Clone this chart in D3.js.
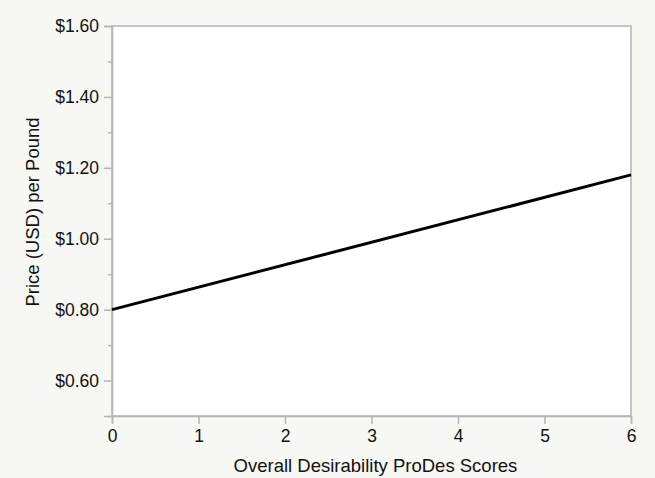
<!DOCTYPE html>
<html>
<head>
<meta charset="utf-8">
<script src="https://cdn.jsdelivr.net/npm/d3@7"></script>
<style>
  html, body { margin: 0; padding: 0; background: #f7f7f4; }
  svg { display: block; }
  text { font-family: "Liberation Sans", Arial, Helvetica, sans-serif; fill: #111; }
</style>
</head>
<body>
<svg id="chart" width="655" height="478"></svg>
<script>
// Fitted price line: desirability score vs. price per pound
const scores = [0, 6];
const prices = [0.80, 1.18];
const xTicks = [0, 1, 2, 3, 4, 5, 6];
const yTicks = [0.60, 0.80, 1.00, 1.20, 1.40, 1.60];
const yMinorTicks = [0.50, 0.70, 0.90, 1.10, 1.30, 1.50];

const svg = d3.select("#chart");
const margin = { left: 112, right: 24, top: 26, bottom: 62 };
const W = 655, H = 478;
const tickFont = 17.5;
const titleFont = 18.5;

const x = d3.scaleLinear().domain([0, 6]).range([margin.left, W - margin.right]);
const y = d3.scaleLinear().domain([0.5, 1.6]).range([H - margin.bottom, margin.top]);

// plot panel
svg.append("rect")
  .attr("x", x(0)).attr("y", y(1.6))
  .attr("width", x(6) - x(0)).attr("height", y(0.5) - y(1.6))
  .attr("fill", "#fff").attr("stroke", "#b4b4b4").attr("stroke-width", 1.5);

const axisColor = "#b4b4b4";

// x axis
svg.append("g").attr("transform", `translate(0,${y(0.5)})`)
  .call(d3.axisBottom(x).tickValues(xTicks).tickFormat(d3.format("d")).tickSize(8).tickPadding(6));
// y axis
svg.append("g").attr("transform", `translate(${x(0)},0)`)
  .call(d3.axisLeft(y).tickValues(yTicks).tickFormat(d => "$" + d.toFixed(2)).tickSize(8).tickPadding(5));
// minor y ticks
svg.append("g").attr("transform", `translate(${x(0)},0)`)
  .call(d3.axisLeft(y).tickValues(yMinorTicks).tickFormat("").tickSize(4))
  .call(g => g.select(".domain").remove());

svg.selectAll(".domain").attr("stroke", axisColor).attr("stroke-width", 1.5);
svg.selectAll(".tick line").attr("stroke", axisColor).attr("stroke-width", 1.5);
svg.selectAll(".tick text").attr("font-size", tickFont).attr("fill", "#111")
  .attr("font-family", "'Liberation Sans', Arial, sans-serif");

// fitted line
svg.append("path")
  .datum(scores.map((s, i) => [s, prices[i]]))
  .attr("fill", "none").attr("stroke", "#000").attr("stroke-width", 3)
  .attr("d", d3.line().x(d => x(d[0])).y(d => y(d[1])));

// axis titles
svg.append("text")
  .attr("x", (x(0) + x(6)) / 2 + 4).attr("y", 471.5)
  .attr("text-anchor", "middle").attr("font-size", titleFont)
  .text("Overall Desirability ProDes Scores");
svg.append("text")
  .attr("transform", `translate(38.5,212) rotate(-90)`)
  .attr("text-anchor", "middle").attr("font-size", titleFont)
  .text("Price (USD) per Pound");
</script>
</body>
</html>
